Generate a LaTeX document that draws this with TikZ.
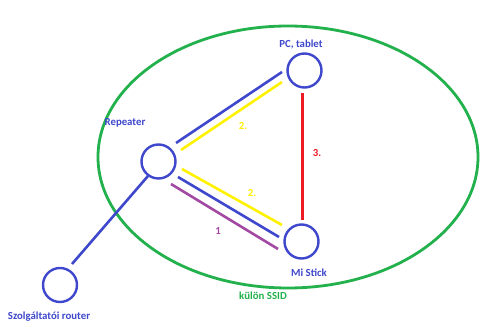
\documentclass[tikz,border=0pt]{standalone}
\usepackage{fontspec}
\setmainfont{Carlito}
\definecolor{pblue}{HTML}{3F48CC}
\definecolor{pgreen}{HTML}{22B14C}
\definecolor{pyellow}{HTML}{FFF200}
\definecolor{pred}{HTML}{ED1C24}
\definecolor{ppurple}{HTML}{A349A4}
\tikzset{
  dev/.style={draw=pblue,line width=2.4pt,circle,minimum size=34pt,inner sep=0pt},
  lbl/.style={font=\fontsize{10.8}{12}\selectfont\bfseries,inner sep=0pt},
  link/.style={line width=2.6pt},
}
\begin{document}
\begin{tikzpicture}[x=1pt,y=-1pt]
\useasboundingbox (0,0) rectangle (480,331);
\fill[white] (0,0) rectangle (480,331);
% green SSID ellipse
\draw[pgreen,line width=2.8pt] (288,157) ellipse [x radius=190, y radius=131];
% devices
\node[dev] (pc) at (304.5,70.5) {};
\node[dev] (rep) at (158.5,161.5) {};
\node[dev] (mi) at (301.5,241.5) {};
\node[dev] (rt) at (60,285) {};
% connector end points
\coordinate (b1s) at (176,143); \coordinate (b1e) at (282,72);
\coordinate (y1s) at (181,150); \coordinate (y1e) at (282,82);
\coordinate (y2s) at (182,169); \coordinate (y2e) at (282,225);
\coordinate (b2s) at (178,177); \coordinate (b2e) at (279,237);
\coordinate (p2s) at (171,184); \coordinate (p2e) at (278,249);
\coordinate (rs) at (302.7,93); \coordinate (re) at (302.7,220);
\coordinate (rts) at (148,176); \coordinate (rte) at (72,264);
% connectors
\draw[pblue,link] (b1s) -- (b1e);
\draw[pyellow,link] (y1s) -- (y1e);
\draw[pyellow,link] (y2s) -- (y2e);
\draw[pblue,link] (b2s) -- (b2e);
\draw[ppurple,link] (p2s) -- (p2e);
\draw[pred,link] (rs) -- (re);
\draw[pblue,link] (rts) -- (rte);
% labels
\node[lbl,text=pblue] (lpc) at (301,44) {PC, tablet};
\node[lbl,text=pblue] (lrep) at (125,123) {Repeater};
\node[lbl,text=pyellow] (l2a) at (243,126) {2.};
\node[lbl,text=pred] (l3) at (317,153) {3.};
\node[lbl,text=pyellow] (l2b) at (252,193) {2.};
\node[lbl,text=ppurple] (l1) at (218,231) {1};
\node[lbl,text=pblue] (lmi) at (309,273) {Mi Stick};
\node[lbl,text=pgreen] (lssid) at (263,296) {külön SSID};
\node[lbl,text=pblue] (lrt) at (49,317) {Szolgáltatói router};
\end{tikzpicture}
\end{document}
